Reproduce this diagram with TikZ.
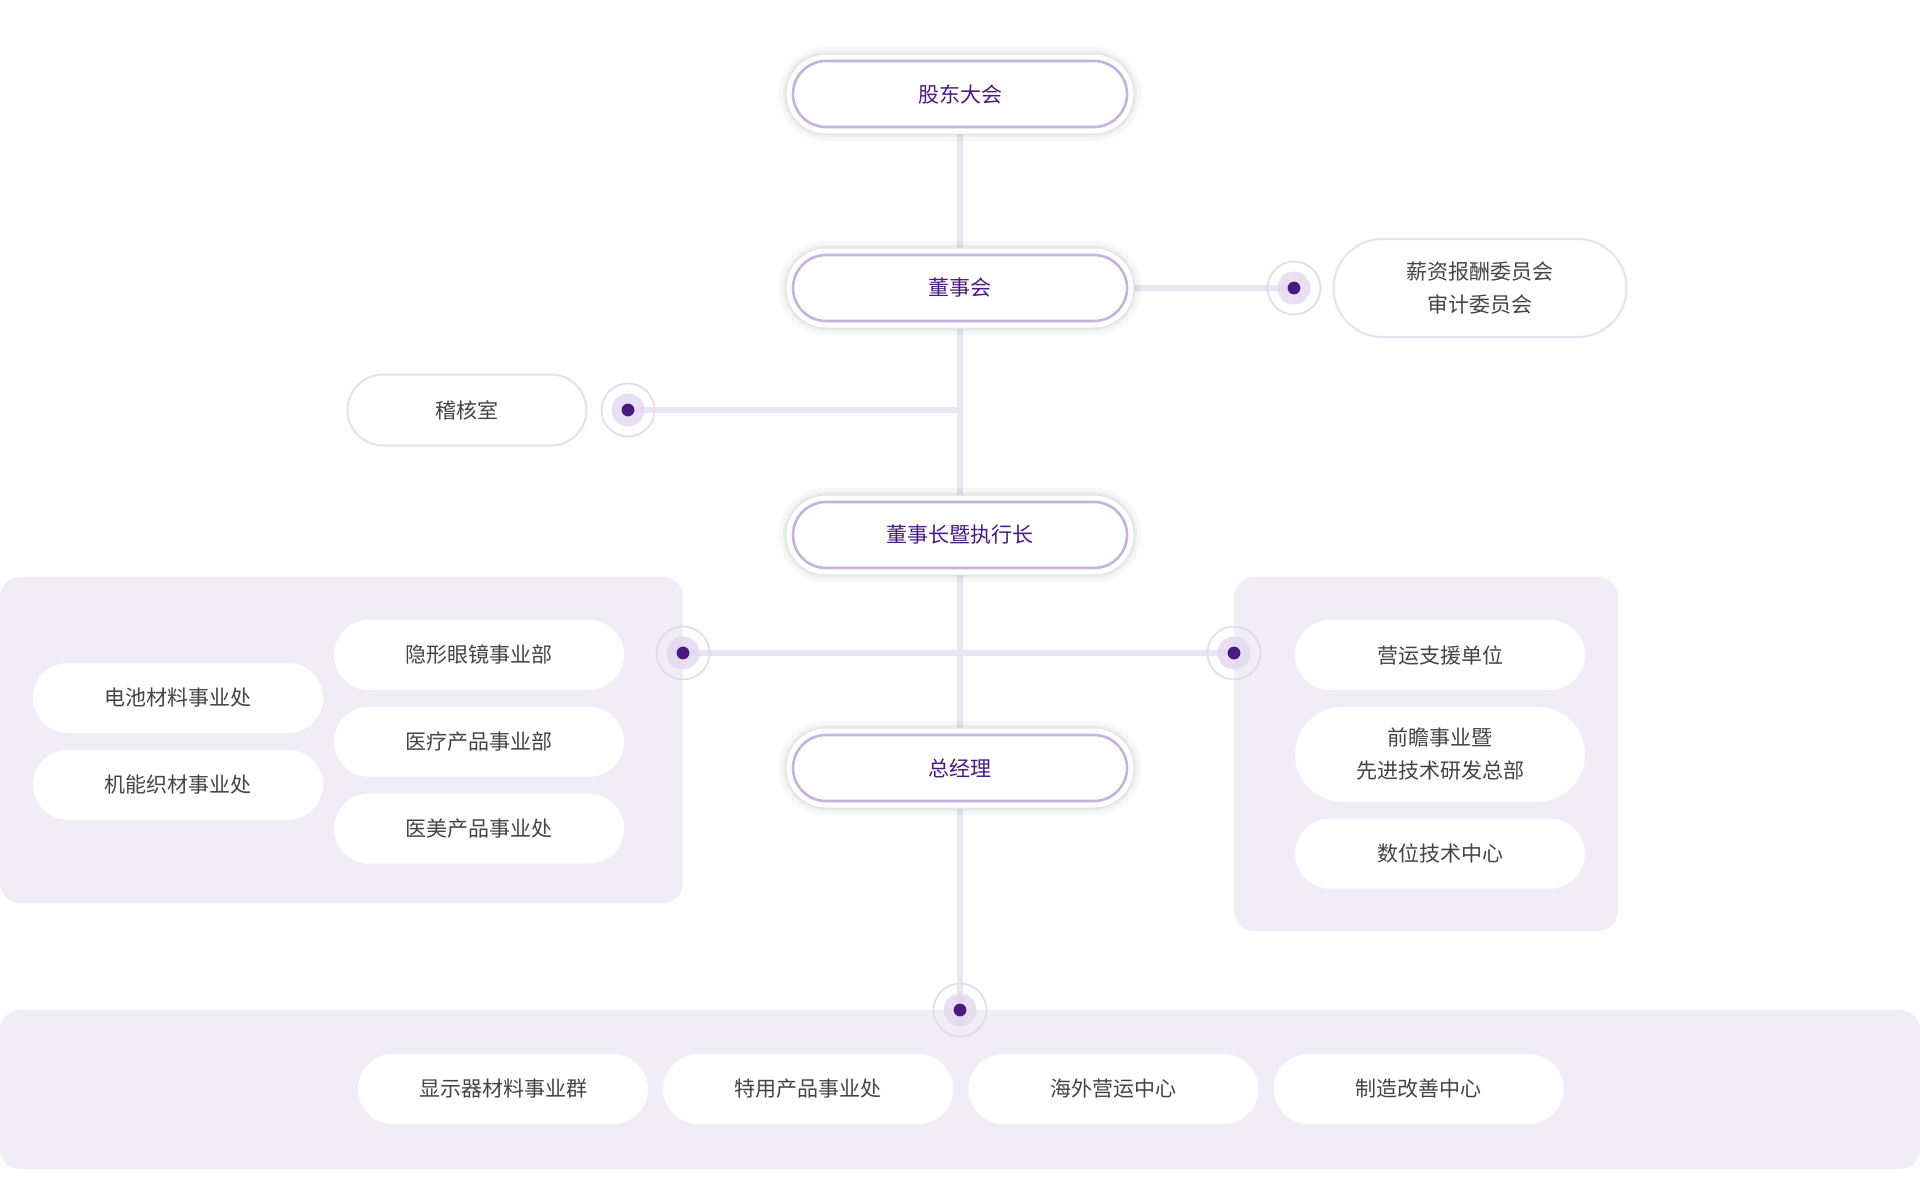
\documentclass[tikz,border=0pt]{standalone}
\usepackage{fontspec}
\newfontfamily\cjk{Noto Sans CJK SC}
\usetikzlibrary{positioning, calc, shapes.misc, backgrounds}
\definecolor{deep}{HTML}{4A1A80}
\definecolor{edge}{HTML}{C6B3DC}
\definecolor{soft}{HTML}{EAE4F3}
\definecolor{ring}{HTML}{E2D8EF}
\definecolor{panelbg}{HTML}{F0EDF7}
\definecolor{sideedge}{HTML}{E6DFF1}
\definecolor{ink}{HTML}{444444}

\begin{document}
\begin{tikzpicture}[x=0.5pt, y=-0.5pt,
	every node/.style={font=\cjk\fontsize{10.5}{16.5}\selectfont, inner sep=0pt},
	head/.style={rounded rectangle, minimum width=167pt, minimum height=33pt, fill=white, draw=edge, line width=1.3pt, text=deep,
		preaction={draw=black, draw opacity=.03, line width=14pt},
		preaction={draw=black, draw opacity=.04, line width=10pt},
		preaction={draw=black!12, line width=7.5pt},
		preaction={draw=white, line width=6.5pt}},
	unit/.style={rounded rectangle, minimum width=145pt, minimum height=35pt, fill=white, text=ink, align=center},
	side/.style={rounded rectangle, fill=white, draw=sideedge, line width=1pt, text=ink, align=center},
	hub/.style={circle, minimum size=26.5pt, draw=ring, line width=.8pt,
		path picture={
			\fill[ring, fill opacity=.8] (path picture bounding box.center) circle (8.25pt);
			\fill[deep] (path picture bounding box.center) circle (3.2pt);}},
	link/.style={draw=soft, line width=3pt},
	panel/.style={fill=panelbg, rounded corners=10pt}]
	\useasboundingbox (0,0) rectangle (1920,1200);

	\node[head] (agm) at (960,94) {股东大会};
	\node[head] (board) at (960,288) {董事会};
	\node[head] (ceo) at (960,535) {董事长暨执行长};
	\node[head] (gm) at (960,768) {总经理};

	\node[hub] (hubC) at (1294,288) {};
	\node[side, minimum width=146.5pt, minimum height=49pt] (committee) at (1480,288) {薪资报酬委员会\\审计委员会};
	\node[hub] (hubA) at (628,410) {};
	\node[side, minimum width=119.5pt, minimum height=35.5pt] (audit) at (467,410) {稽核室};

	\node[hub] (hubL) at (683,653) {};
	\node[hub] (hubR) at (1234,653) {};
	\node[hub] (hubB) at (960,1010) {};

	\node[unit] (lens) at (479,655) {隐形眼镜事业部};
	\node[unit, below=8pt of lens] (medical) {医疗产品事业部};
	\node[unit, below=8pt of medical] (beauty) {医美产品事业处};
	\node[unit] (battery) at (178,698) {电池材料事业处};
	\node[unit, below=8pt of battery] (fabric) {机能织材事业处};

	\node[unit] (ops) at (1440,655) {营运支援单位};
	\node[unit, minimum height=47.5pt, below=8pt of ops] (frontier) {前瞻事业暨\\先进技术研发总部};
	\node[unit, below=8pt of frontier] (digital) {数位技术中心};

	\node[unit] (display) at (503,1089) {显示器材料事业群};
	\node[unit, right=7.2pt of display] (special) {特用产品事业处};
	\node[unit, right=7.2pt of special] (overseas) {海外营运中心};
	\node[unit, right=7.2pt of overseas] (mfg) {制造改善中心};

	\begin{scope}[on background layer]
		\fill[panel] (0,577) rectangle (683,903);
		\fill[panel] (1234,577) rectangle (1618,931);
		\fill[panel] (0,1010) rectangle (1920,1169);

		\draw[link] (agm) -- (board);
		\draw[link] (board) -- (ceo);
		\draw[link] (ceo) -- (gm);
		\draw[link] (gm) -- (hubB.center);
		\draw[link] (board) -- (hubC.center);
		\draw[link] (hubA.center) -- (hubA.center -| board.center);
		\draw[link] (hubL.center) -- (hubR.center);
	\end{scope}
\end{tikzpicture}
\end{document}
